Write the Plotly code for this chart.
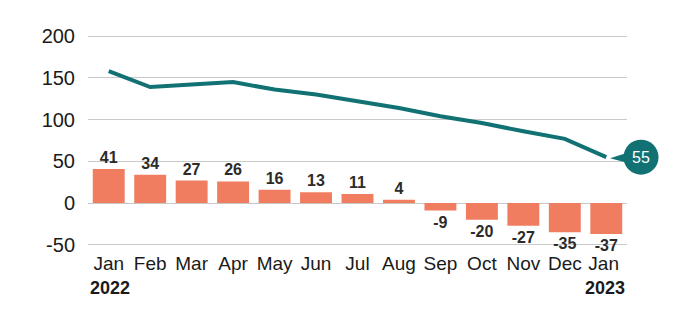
import plotly.graph_objects as go

months = ["Jan", "Feb", "Mar", "Apr", "May", "Jun", "Jul", "Aug", "Sep", "Oct", "Nov", "Dec", "Jan "]
bar_values = [41, 34, 27, 26, 16, 13, 11, 4, -9, -20, -27, -35, -37]
line_values = [158, 139, 142, 145, 136, 130, 122, 114, 104, 96, 86, 77, 55]
y_ticks = [-50, 0, 50, 100, 150, 200]
year_labels = ["2022", "2023"]

TEAL = "#117173"
CORAL = "#f07d5f"
FONT = "Liberation Sans, Arial, sans-serif"

ymin, ymax = -55, 205

fig = go.Figure()
fig.add_trace(go.Bar(
    x=months, y=bar_values, marker_color=CORAL, marker_line_width=0,
    text=[str(v) for v in bar_values], textposition="outside",
    textfont=dict(family=FONT, size=16, color="#2b2b2b", weight="bold"),
    cliponaxis=False, width=0.77,
))
fig.add_trace(go.Scatter(
    x=months, y=line_values, mode="lines",
    line=dict(color=TEAL, width=4), cliponaxis=False,
))

last = line_values[-1]
yp = (last - ymin) / (ymax - ymin)
bx = 1.026
fig.add_shape(type="circle", xref="paper", yref="paper", xsizemode="pixel", ysizemode="pixel",
              xanchor=bx, yanchor=yp, x0=-17.5, x1=17.5, y0=-17.5, y1=17.5,
              fillcolor=TEAL, line_width=0, layer="above")
fig.add_shape(type="path", xref="paper", yref="paper", xsizemode="pixel", ysizemode="pixel",
              xanchor=bx, yanchor=yp, path="M -31 -1 L -12 5 L -12 -6 Z",
              fillcolor=TEAL, line_width=0, layer="above")
fig.add_annotation(xref="paper", yref="paper", x=bx, y=yp, text=str(last), showarrow=False,
                   xanchor="center", yanchor="middle",
                   font=dict(family=FONT, size=16, color="white"))

fig.add_annotation(xref="paper", yref="paper", x=0.0, y=0, yshift=-27, text=year_labels[0],
                   showarrow=False, xanchor="left", yanchor="top",
                   font=dict(family=FONT, size=18, color="#1a1a1a", weight="bold"))
fig.add_annotation(xref="paper", yref="paper", x=1.0, y=0, yshift=-27, text=year_labels[1],
                   showarrow=False, xanchor="right", yanchor="top",
                   font=dict(family=FONT, size=18, color="#1a1a1a", weight="bold"))

fig.update_layout(
    width=693, height=328, margin=dict(l=88, r=66, t=32, b=79),
    paper_bgcolor="white", plot_bgcolor="white", showlegend=False,
    font=dict(family=FONT, size=19, color="#1a1a1a"),
    xaxis=dict(range=[-0.5, 12.5], showgrid=False, showline=False, zeroline=False,
               ticks="", ticklabelstandoff=1,
               tickfont=dict(family=FONT, size=19, color="#1a1a1a")),
    yaxis=dict(range=[ymin, ymax], tickvals=y_ticks, ticktext=[str(v) for v in y_ticks],
               showgrid=True, gridcolor="#c9c9c9",
               gridwidth=1, zeroline=True, zerolinecolor="#c9c9c9", zerolinewidth=1,
               showline=False, ticks="outside", ticklen=8, tickcolor="rgba(0,0,0,0)",
               tickfont=dict(family=FONT, size=20, color="#1a1a1a")),
    bargap=0.23,
)

fig.write_html("out.html")
